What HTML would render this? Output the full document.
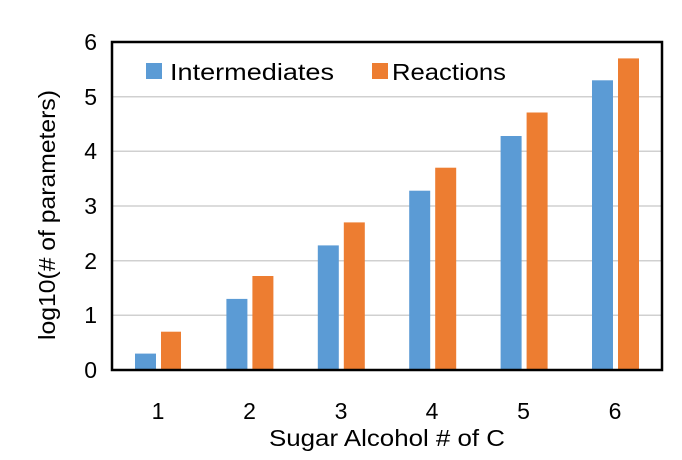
<!DOCTYPE html>
<html><head><meta charset="utf-8"><style>
body{margin:0;background:#fff}
</style></head><body>
<svg width="682" height="455" xmlns="http://www.w3.org/2000/svg" font-family="'Liberation Sans', sans-serif">
<rect width="682" height="455" fill="#fff"/>
<g stroke="#d0d0d0" stroke-width="1.5">
<line x1="112" x2="662" y1="96.7" y2="96.7"/>
<line x1="112" x2="662" y1="151.3" y2="151.3"/>
<line x1="112" x2="662" y1="206" y2="206"/>
<line x1="112" x2="662" y1="260.7" y2="260.7"/>
<line x1="112" x2="662" y1="315.3" y2="315.3"/>
</g>
<g fill="#5b9bd5">
<rect x="135" y="353.6" width="21" height="16.4"/>
<rect x="226.4" y="298.9" width="21" height="71.1"/>
<rect x="317.8" y="245.4" width="21" height="124.6"/>
<rect x="409.2" y="190.7" width="21" height="179.3"/>
<rect x="500.6" y="136" width="21" height="234"/>
<rect x="592" y="80.3" width="21" height="289.7"/>
</g>
<g fill="#ed7d31">
<rect x="161" y="331.7" width="20" height="38.3"/>
<rect x="252.4" y="276" width="21" height="94"/>
<rect x="343.8" y="222.4" width="21" height="147.6"/>
<rect x="435.2" y="167.7" width="21" height="202.3"/>
<rect x="526.6" y="112.5" width="21" height="257.5"/>
<rect x="618" y="58.4" width="21" height="311.6"/>
</g>
<rect x="112" y="42" width="550" height="328" fill="none" stroke="#000" stroke-width="2.5"/>
<rect x="146" y="63" width="16" height="16" fill="#5b9bd5"/>
<text x="170" y="80" font-size="23" textLength="164" lengthAdjust="spacingAndGlyphs" fill="#000">Intermediates</text>
<rect x="372" y="63" width="16" height="16" fill="#ed7d31"/>
<text x="392" y="80" font-size="23" textLength="114" lengthAdjust="spacingAndGlyphs" fill="#000">Reactions</text>
<g font-size="23" text-anchor="end" fill="#000">
<text x="97" y="378">0</text>
<text x="97" y="323">1</text>
<text x="97" y="269">2</text>
<text x="97" y="214">3</text>
<text x="97" y="159">4</text>
<text x="97" y="105">5</text>
<text x="97" y="50">6</text>
</g>
<g font-size="23" text-anchor="middle" fill="#000">
<text x="158" y="419">1</text>
<text x="249.5" y="419">2</text>
<text x="341" y="419">3</text>
<text x="432" y="419">4</text>
<text x="523.5" y="419">5</text>
<text x="615" y="419">6</text>
<text x="387" y="446" textLength="236" lengthAdjust="spacingAndGlyphs">Sugar Alcohol # of C</text>
<text transform="translate(55,215) rotate(-90)" textLength="250" lengthAdjust="spacingAndGlyphs">log10(# of parameters)</text>
</g>
</svg>
</body></html>
